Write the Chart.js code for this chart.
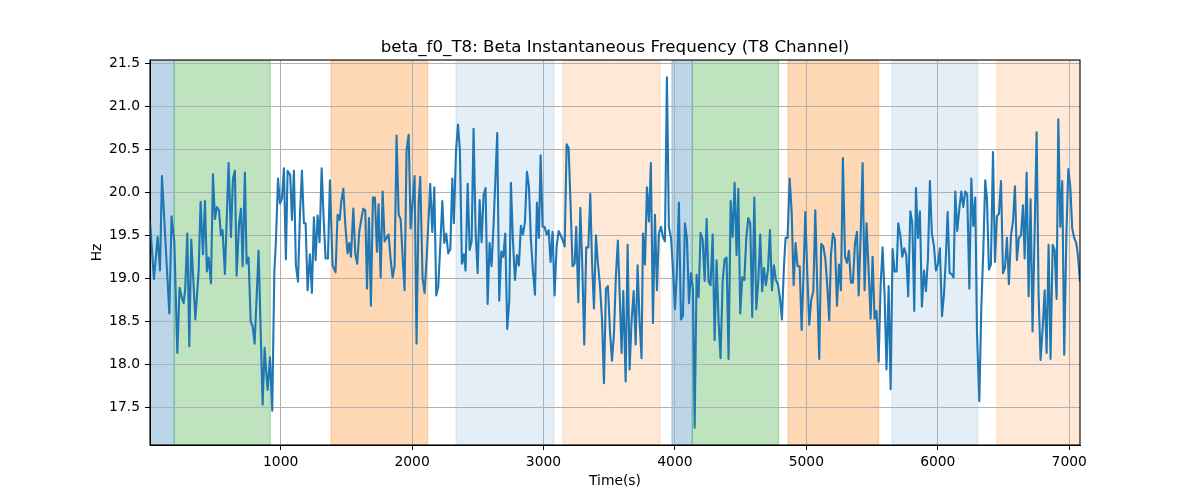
<!DOCTYPE html>
<html><head><meta charset="utf-8">
<script src="https://cdn.jsdelivr.net/npm/chart.js@4"></script>
<style>html,body{margin:0;padding:0;background:#fff;} canvas{display:block;}</style>
</head><body>
<canvas id="c" width="1200" height="500"></canvas>
<script>
const times = [6,36,64,82,97,122,153,170,191,214,231,249,262,274,290,305,320,351,376,391,409,424,439,452,470,485,500,515,531,546,558,576,604,622,637,652,665,683,698,711,728,741,756,772,787,802,817,832,863,878,891,901,919,936,952,964,980,995,1010,1025,1040,1053,1073,1086,1101,1116,1132,1147,1162,1177,1190,1205,1223,
1238,1253,1266,1281,1296,1312,1327,1342,1360,1375,1395,1418,1433,1449,1461,1477,1492,1509,1522,1535,1553,1568,1583,1598,1613,1629,1644,1657,1672,1687,1702,1717,1733,1745,1761,1776,1791,1806,1821,1837,1852,1867,1882,1898,1913,1928,1943,1958,1974,1989,2004,2019,2034,2050,2062,2080,2095,2111,2126,2138,2154,2169,2184,2199,2215,2230,2245,2260,2275,2291,2306,2318,2334,2349,2364,
2379,2395,2407,2423,2438,2453,2468,2483,2499,2514,2529,2544,2559,2575,2590,2605,2620,2648,2663,2679,2694,2709,2724,2740,2752,2767,2783,2798,2813,2828,2844,2859,2874,2889,2904,2920,2935,2950,2965,2978,2993,3008,3024,3039,3054,3069,3084,3100,3115,3130,3145,3161,3176,3191,3206,3221,3237,3249,3265,3280,3295,3310,3325,3341,3356,3369,3384,3399,3414,3429,3445,3460,3475,3490,3506,3521,3536,3551,3566,3582,
3594,3607,3625,3640,3655,3670,3686,3701,3716,3731,3746,3757,3772,3787,3802,3817,3833,3848,3863,3878,3894,3909,3924,3939,3954,3970,3985,4000,4015,4030,4046,4061,4076,4091,4107,4122,4137,4150,4165,4180,4195,4211,4226,4241,4256,4271,4287,4302,4317,4332,4347,4363,4378,4393,4408,4424,4439,4454,4469,4482,4497,4512,4528,4543,4558,4573,4588,4604,4619,4634,4649,4664,4677,4692,4708,4723,4738,4753,4768,4784,4799,
4814,4829,4842,4857,4873,4888,4903,4918,4933,4949,4964,4979,4992,5007,5022,5037,5053,5068,5083,5098,5113,5129,5144,5159,5174,5187,5202,5217,5233,5248,5263,5278,5294,5309,5324,5339,5354,5370,5385,5398,5413,5428,5443,5458,5474,5489,5504,5519,5534,5550,5565,5580,5595,5610,5626,5641,5656,5671,5687,5699,5715,5730,5745,5760,5775,5791,5806,5821,5834,5849,5864,5879,5895,5910,5925,5940,5955,5971,5986,6001,6016,
6032,6047,6060,6075,6090,6105,6120,6133,6148,6164,6179,6194,6209,6224,6240,6255,6270,6285,6298,6316,6331,6346,6361,6374,6389,6404,6420,6435,6450,6465,6481,6496,6511,6526,6541,6557,6572,6587,6602,6617,6633,6648,6661,6676,6691,6706,6721,6737,6752,6767,6782,6798,6813,6828,6843,6858,6874,6889,6904,6917,6932,6947,6962,6978,6993,7008,7023,7038,7054,7066,7082];

const freq = [19.66,18.99,19.48,19.09,20.19,19.48,18.59,19.72,19.43,18.13,18.89,18.77,18.71,18.88,19.52,18.21,19.45,18.52,19.08,19.89,19.28,19.90,19.08,19.24,18.94,20.21,19.69,19.83,19.79,19.50,19.56,19.05,20.34,19.48,20.16,20.25,19.03,19.62,19.81,19.14,20.23,19.17,19.24,18.50,18.44,18.24,18.77,19.32,17.53,18.19,17.90,17.70,18.08,17.46,19.08,19.43,20.16,19.87,19.93,20.28,19.22,20.25,20.20,19.68,20.25,19.15,18.96,19.74,20.25,19.64,19.64,18.86,19.28,
18.83,19.71,19.21,19.73,19.42,20.28,19.70,19.23,19.23,20.14,19.15,19.07,19.74,19.68,19.89,20.04,19.62,19.29,19.41,19.25,19.81,19.28,19.17,19.54,19.68,19.81,19.79,18.88,19.70,18.68,19.94,19.94,19.31,19.86,19.01,20.01,19.43,19.47,19.51,19.22,19.01,19.14,20.66,19.74,19.69,19.25,18.86,20.49,20.67,19.58,19.89,20.19,18.24,19.87,20.18,19.00,18.83,19.23,19.70,20.10,19.54,20.06,18.80,18.90,19.39,19.90,19.41,19.52,19.29,19.34,20.16,19.64,20.47,20.79,20.49,
19.17,19.28,19.09,20.10,19.33,19.43,20.74,19.56,19.06,19.91,19.42,19.97,20.05,18.70,19.41,19.14,19.62,20.69,18.74,19.31,19.25,19.52,18.41,18.75,20.11,19.45,18.98,19.27,19.15,19.61,19.51,19.66,20.24,20.07,19.45,19.08,18.81,19.88,19.47,20.43,19.60,19.60,19.51,19.56,19.19,19.54,18.80,19.37,19.55,19.50,19.45,19.37,20.56,20.52,19.85,19.14,19.17,19.60,18.72,19.82,19.15,18.23,19.36,19.36,19.98,19.19,18.65,19.50,19.17,18.93,18.53,17.78,18.88,18.91,18.38,18.04,18.35,19.04,19.44,18.71,
18.13,18.85,17.80,19.39,17.94,18.50,18.85,18.23,19.15,18.50,18.07,19.52,19.16,20.06,19.66,20.34,18.48,19.74,18.86,19.52,19.60,19.48,19.43,21.34,19.60,19.47,19.12,18.64,19.08,19.88,18.52,18.56,19.64,19.47,18.71,19.06,18.88,17.26,19.04,18.78,19.53,19.45,18.97,19.69,18.96,18.92,19.51,18.28,19.21,18.50,18.07,18.96,19.22,19.24,18.06,19.90,19.48,20.11,19.27,20.04,18.59,19.01,18.98,19.47,19.70,19.64,18.55,19.94,18.64,18.96,19.51,18.85,19.12,18.92,19.10,19.56,18.86,19.15,18.98,18.93,18.77,
18.52,19.12,19.47,19.47,20.16,19.78,18.92,19.41,19.14,19.14,18.40,19.08,19.77,19.06,18.46,18.75,18.85,19.79,18.88,18.06,19.40,19.37,19.23,18.92,18.51,19.27,19.52,19.45,18.68,19.16,18.86,20.40,19.25,19.18,19.32,18.95,18.95,19.41,19.54,18.80,19.50,20.34,18.86,19.64,19.08,18.53,19.25,18.53,18.62,18.03,18.92,19.36,18.81,17.94,18.91,17.71,19.34,19.08,19.08,19.64,19.50,19.25,19.35,19.27,18.79,19.78,19.64,18.62,20.05,19.47,19.78,18.67,19.09,18.85,19.23,20.13,19.52,19.37,19.09,19.16,19.35,
18.56,18.81,19.20,19.77,19.06,19.05,19.01,20.01,19.55,19.81,20.01,19.83,20.01,19.98,18.88,20.16,19.61,19.94,18.38,17.57,18.65,19.31,20.14,19.93,19.10,19.16,20.47,19.19,19.72,19.75,20.13,19.06,19.12,19.47,18.93,19.50,19.66,20.07,19.21,19.47,19.50,19.85,19.23,20.23,18.79,19.92,18.38,19.54,20.70,18.81,18.05,18.42,18.86,18.13,19.39,18.06,19.39,19.33,18.76,20.85,19.60,20.13,18.11,19.48,20.27,20.07,19.58,19.47,19.41,19.27,18.96];

const xTickValues = [1000,2000,3000,4000,5000,6000,7000];
const yTickValues = [17.5,18.0,18.5,19.0,19.5,20.0,20.5,21.0,21.5];
const spanStarts = [6,190,1383,2334,3148,3977,4132,4860,5651,6450];
const spanEnds   = [190,921,2118,3079,3886,4132,4789,5550,6303,7100];
const spanKinds  = ['blue','green','orange','lightblue','lightorange','blue','green','orange','lightblue','lightorange'];

const titleText = 'beta_f0_T8: Beta Instantaneous Frequency (T8 Channel)';
const xAxisLabel = 'Time(s)';
const yAxisLabel = 'Hz';

const spanColors = {
  blue: 'rgba(31,119,180,0.3)',
  green: 'rgba(44,160,44,0.3)',
  orange: 'rgba(255,127,14,0.3)',
  lightblue: 'rgba(31,119,180,0.12)',
  lightorange: 'rgba(255,127,14,0.17)'
};
const FONT = "'DejaVu Sans', 'Liberation Sans', sans-serif";

const spanPlugin = {
  id: 'spans',
  beforeDraw(chart) {
    const ctx = chart.ctx, ca = chart.chartArea, xs = chart.scales.x;
    ctx.save();
    ctx.beginPath(); ctx.rect(ca.left, ca.top, ca.right - ca.left, ca.bottom - ca.top); ctx.clip();
    for (let i = 0; i < spanStarts.length; i++) {
      const x1 = xs.getPixelForValue(spanStarts[i]);
      const x2 = xs.getPixelForValue(spanEnds[i]);
      ctx.fillStyle = spanColors[spanKinds[i]];
      ctx.fillRect(x1, ca.top, x2 - x1, ca.bottom - ca.top);
      ctx.strokeStyle = spanColors[spanKinds[i]];
      ctx.lineWidth = 1.2;
      ctx.strokeRect(x1, ca.top, x2 - x1, ca.bottom - ca.top);
    }
    ctx.restore();
  },
  afterDatasetsDraw(chart) {
    const ctx = chart.ctx, ca = chart.chartArea;
    ctx.save();
    ctx.strokeStyle = '#000'; ctx.lineWidth = 1.1;
    ctx.strokeRect(ca.left, ca.top, ca.right - ca.left, ca.bottom - ca.top);
    ctx.restore();
  },
  afterDraw(chart) {
    const ctx = chart.ctx, ca = chart.chartArea;
    ctx.save();
    ctx.fillStyle = '#000';
    ctx.font = '16.67px ' + FONT;
    ctx.textAlign = 'center'; ctx.textBaseline = 'alphabetic';
    ctx.fillText(titleText, (ca.left + ca.right) / 2, 51.7);
    ctx.font = '13.89px ' + FONT;
    ctx.textBaseline = 'middle';
    ctx.fillText(xAxisLabel, (ca.left + ca.right) / 2, 481);
    ctx.translate(97, (ca.top + ca.bottom) / 2);
    ctx.rotate(-Math.PI / 2);
    ctx.fillText(yAxisLabel, 0, 0);
    ctx.restore();
  }
};

const points = times.map((t, i) => ({x: t, y: freq[i]}));

new Chart(document.getElementById('c'), {
  type: 'line',
  data: { datasets: [{
    data: points,
    borderColor: '#1f77b4',
    borderWidth: 2.1,
    pointRadius: 0,
    tension: 0,
    fill: false,
    borderJoinStyle: 'round'
  }]},
  options: {
    responsive: false,
    animation: false,
    devicePixelRatio: 1,
    layout: { padding: { left: 0, right: 120, top: 60, bottom: 0 } },
    plugins: { legend: { display: false }, tooltip: { enabled: false }, title: { display: false } },
    scales: {
      x: {
        type: 'linear', min: 6, max: 7082,
        afterBuildTicks: s => { s.ticks = xTickValues.map(v => ({value: v})); },
        afterFit: s => { s.height = 55; s.paddingLeft = 0; s.paddingRight = 0; },
        grid: { color: '#b0b0b0', lineWidth: 1, tickColor: '#000', tickLength: 5, tickWidth: 1 },
        border: { display: true, color: '#000', width: 1 },
        ticks: { color: '#000', font: { family: FONT, size: 13.89 }, padding: 4, maxRotation: 0, autoSkip: false,
                 callback: v => String(v) }
      },
      y: {
        type: 'linear', min: 17.06, max: 21.54,
        afterBuildTicks: s => { s.ticks = yTickValues.map(v => ({value: v})); },
        afterFit: s => { s.width = 150; s.paddingTop = 0; s.paddingBottom = 0; },
        grid: { color: '#b0b0b0', lineWidth: 1, tickColor: '#000', tickLength: 5, tickWidth: 1 },
        border: { display: true, color: '#000', width: 1 },
        ticks: { color: '#000', font: { family: FONT, size: 13.89 }, padding: 5, autoSkip: false,
                 callback: v => Number(v).toFixed(1) }
      }
    }
  },
  plugins: [spanPlugin]
});
</script>
</body></html>
